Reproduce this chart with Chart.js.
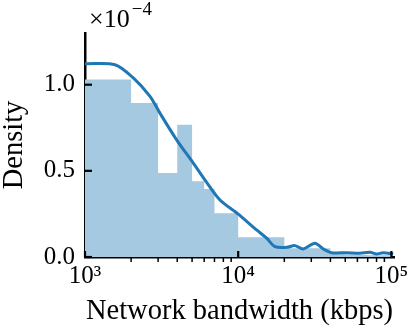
<!DOCTYPE html>
<html>
<head>
<meta charset="utf-8">
<script src="https://cdn.jsdelivr.net/npm/chart.js@4/dist/chart.umd.min.js"></script>
<style>
	html, body { margin: 0; padding: 0; background: #fff; }
	#wrap { width: 415px; height: 332px; }
</style>
</head>
<body>
<div id="wrap"><canvas id="chart"></canvas></div>
<script>
// histogram: bin edges (kbps) and density (x1e-4) of each bin
const binEdges = [1000, 2000, 3000, 4000, 5000, 6000, 7000, 8000, 9000, 10000,
	20000, 30000, 40000, 50000, 60000, 70000, 80000, 90000, 100000];
const binDensity = [1.03, 0.894, 0.487, 0.767, 0.439, 0.394, 0.254, 0.254, 0.254,
	0.115, 0.051, 0.051, 0.02, 0.015, 0.012, 0.01, 0.01, 0.01];

// kde curve (x1e-4)
const kdeX = [1000, 1571, 2066, 2656, 3084, 3964, 5093, 6225, 7605, 9960, 13180, 15340,
	17390, 20710, 23450, 26570, 31680, 35880, 40700, 51000, 62300, 72400, 80000, 88400, 102800];
const kdeY = [1.122, 1.116, 1.039, 0.932, 0.835, 0.680, 0.545, 0.433, 0.331, 0.25, 0.157, 0.109,
	0.060, 0.056, 0.066, 0.047, 0.080, 0.047, 0.025, 0.025, 0.022, 0.027, 0.017, 0.025, 0.017];

const xMajor = [1000, 10000, 100000];
const xMinor = [2000, 3000, 4000, 5000, 6000, 7000, 8000, 9000,
	20000, 30000, 40000, 50000, 60000, 70000, 80000, 90000];
const yTicks = [0, 0.5, 1.0];
const xLabels = { 1000: '10³', 10000: '10⁴', 100000: '10⁵' };

const serif = '"Liberation Serif", "DejaVu Serif", serif';

function histPoints() {
	let pts = binDensity.map((d, i) => ({ x: binEdges[i], y: d }));
	pts.push({ x: binEdges[binEdges.length - 1], y: 0 });
	return pts;
}

const extras = {
	id: 'extras',
	afterDraw(chart) {
		const ctx = chart.ctx;
		const xs = chart.scales.x, ys = chart.scales.y;
		const y0 = ys.getPixelForValue(0);
		const x0 = xs.left;
		const line = (a, b, c, d) => { ctx.beginPath(); ctx.moveTo(a, b); ctx.lineTo(c, d); ctx.stroke(); };
		ctx.save();
		ctx.strokeStyle = '#000';
		ctx.lineWidth = 2.2;
		xMajor.forEach((v) => { let p = xs.getPixelForValue(v); line(p, y0, p, y0 - 6); });
		ctx.lineWidth = 1.5;
		xMinor.forEach((v) => { let p = xs.getPixelForValue(v); line(p, y0, p, y0 + 5); });
		ctx.lineWidth = 2.2;
		yTicks.forEach((v) => { let p = ys.getPixelForValue(v); line(x0, p, x0 + 7, p); });

		// offset text
		ctx.fillStyle = '#000';
		ctx.textBaseline = 'alphabetic';
		ctx.textAlign = 'left';
		ctx.font = '26px ' + serif;
		ctx.fillText('×10', 89, 27);
		let w = ctx.measureText('×10').width;
		ctx.font = '19px ' + serif;
		ctx.fillText('−4', 89 + w + 2, 15);
		ctx.restore();
	}
};

new Chart(document.getElementById('chart'), {
	type: 'line',
	data: {
		datasets: [
			{
				label: 'kde',
				data: kdeX.map((x, i) => ({ x: x, y: kdeY[i] })),
				borderColor: '#1f77b4',
				borderWidth: 3,
				pointRadius: 0,
				tension: 0.3,
				fill: false,
				order: 0,
			},
			{
				label: 'hist',
				data: histPoints(),
				stepped: true,
				borderColor: 'rgba(0,0,0,0)',
				borderWidth: 1,
				backgroundColor: 'rgb(165,201,225)',
				pointRadius: 0,
				fill: 'origin',
				order: 1,
			},
		],
	},
	options: {
		responsive: true,
		maintainAspectRatio: false,
		animation: false,
		layout: { padding: { top: 33, right: 21, left: 0, bottom: 0 } },
		plugins: { legend: { display: false }, tooltip: { enabled: false } },
		scales: {
			x: {
				type: 'logarithmic',
				z: 1,
				min: 1000,
				max: 104000,
				afterBuildTicks: (s) => { s.ticks = xMajor.map((v) => ({ value: v, major: true })); },
				afterFit: (s) => { s.height = 75; },
				grid: { display: false, drawTicks: false },
				border: { display: true, color: '#000', width: 2.5 },
				ticks: {
					autoSkip: false,
					maxRotation: 0,
					padding: 4,
					color: '#000',
					font: { family: serif, size: 25 },
					callback: (v) => xLabels[v] || '',
				},
				title: {
					display: true,
					text: 'Network bandwidth (kbps)',
					color: '#000',
					font: { family: serif, size: 28.5, lineHeight: 1.0 },
					padding: { top: 0, bottom: 6 },
				},
			},
			y: {
				z: 1,
				min: 0,
				max: 1.3,
				afterBuildTicks: (s) => { s.ticks = yTicks.map((v) => ({ value: v })); },
				afterFit: (s) => { s.width = 85; },
				grid: { display: false, drawTicks: false },
				border: { display: true, color: '#000', width: 2.5 },
				ticks: {
					padding: 10,
					color: '#000',
					font: { family: serif, size: 25 },
					callback: (v) => v.toFixed(1),
				},
				title: {
					display: true,
					text: 'Density',
					color: '#000',
					font: { family: serif, size: 28.5, lineHeight: 1.0 },
					padding: { top: 0, bottom: 0 },
				},
			},
		},
	},
	plugins: [extras],
});
</script>
</body>
</html>
